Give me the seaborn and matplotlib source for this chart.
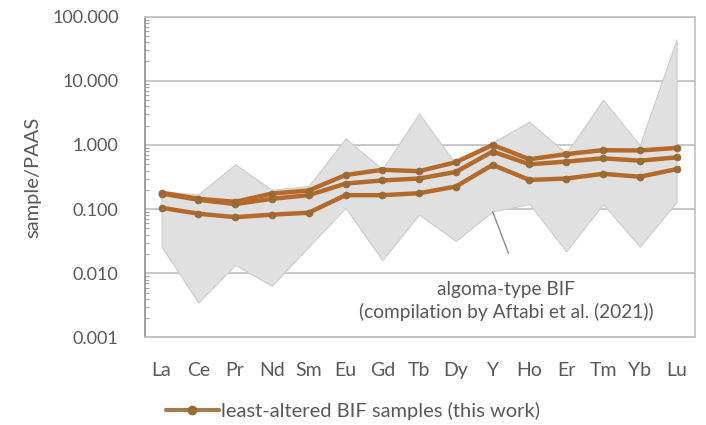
import pandas as pd
import numpy as np
import matplotlib
matplotlib.use("Agg")
import matplotlib.pyplot as plt
from matplotlib.lines import Line2D
from matplotlib.ticker import LogLocator, FixedLocator, NullFormatter
import seaborn as sns

elements = ["La", "Ce", "Pr", "Nd", "Sm", "Eu", "Gd", "Tb", "Dy", "Y",
            "Ho", "Er", "Tm", "Yb", "Lu"]

# least-altered BIF samples (this work), normalised to PAAS
sample_a = [0.18, 0.145, 0.13, 0.175, 0.195, 0.34, 0.41, 0.39, 0.54, 1.0,
            0.60, 0.72, 0.83, 0.82, 0.90]
sample_b = [0.175, 0.14, 0.12, 0.145, 0.165, 0.25, 0.28, 0.30, 0.38, 0.79,
            0.50, 0.55, 0.62, 0.57, 0.64]
sample_c = [0.105, 0.085, 0.075, 0.082, 0.088, 0.165, 0.165, 0.177, 0.225, 0.49,
            0.285, 0.30, 0.355, 0.32, 0.42]

# algoma-type BIF envelope (Aftabi et al. 2021)
env_max = [0.19, 0.17, 0.50, 0.20, 0.23, 1.27, 0.42, 3.1, 0.50, 1.1,
           2.3, 0.74, 5.1, 1.0, 44.0]
env_min = [0.026, 0.0035, 0.0135, 0.0064, 0.026, 0.105, 0.016, 0.082, 0.032, 0.092,
           0.12, 0.022, 0.12, 0.026, 0.13]

df = pd.DataFrame({
    "element": elements * 3,
    "value": sample_a + sample_b + sample_c,
    "sample": ["A"] * 15 + ["B"] * 15 + ["C"] * 15,
})

sns.set_style("white")
plt.rcParams["font.family"] = ["Lato", "DejaVu Sans"]
txt = "#595959"

fig = plt.figure(figsize=(7.06, 4.25), dpi=100)
ax = fig.add_axes([0.2054, 0.2059, 0.779, 0.755])

xs = np.arange(len(elements))
ax.fill_between(xs, env_min, env_max, facecolor="#E0E0E0", edgecolor="#CDCDCD",
                linewidth=0.8, zorder=1)

line_col = "#B5692A"
mk_col = "#9A6A35"
sns.lineplot(data=df, x="element", y="value", units="sample", estimator=None,
             color=line_col, linewidth=3.2, marker="o", markersize=5,
             markerfacecolor=mk_col, markeredgecolor=mk_col, markeredgewidth=0.5,
             ax=ax, zorder=3)

ax.set_yscale("log")
ax.set_ylim(0.001, 100)
ax.set_xlim(-0.45, 14.5)

ax.yaxis.set_major_locator(FixedLocator([0.001, 0.01, 0.1, 1, 10, 100]))
ax.set_yticklabels(["0.001", "0.010", "0.100", "1.000", "10.000", "100.000"])
ax.yaxis.set_minor_locator(LogLocator(base=10, subs=np.arange(2, 10)))
ax.yaxis.set_minor_formatter(NullFormatter())
ax.tick_params(axis="y", which="major", direction="out", length=8, width=1,
               color="#A6A6A6", labelsize=13, labelcolor=txt, pad=11)
ax.tick_params(axis="y", which="minor", direction="in", length=3, width=0.8,
               color="#A6A6A6", left=True)
ax.tick_params(axis="x", length=0, labelsize=14, labelcolor=txt, pad=18)

ax.grid(True, which="major", axis="y", color="#BFBFBF", linewidth=1.2, zorder=0)
ax.set_axisbelow(True)
for s in ["top", "right", "bottom"]:
    ax.spines[s].set_color("#BFBFBF")
    ax.spines[s].set_linewidth(1.2)
ax.spines["left"].set_color("#8C8C8C")
ax.spines["left"].set_linewidth(1.2)

ax.set_xlabel("")
ax.set_ylabel("sample/PAAS", fontsize=14.5, color=txt, labelpad=8)

ax.plot([9.0, 9.43], [0.091, 0.0206], color="#8C8C8C", linewidth=1, zorder=4)
ax.text(9.37, 0.0037, "algoma-type BIF\n(compilation by Aftabi et al. (2021))",
        ha="center", va="center", fontsize=13.8, color=txt, linespacing=1.35, zorder=4)

handle = Line2D([], [], color="#A07C4A", linewidth=3, marker="o", markersize=6,
                markerfacecolor=mk_col, markeredgecolor=mk_col)
fig.legend([handle], ["least-altered BIF samples (this work)"], loc="center",
           bbox_to_anchor=(0.50, 0.032), frameon=False, fontsize=14.5,
           handlelength=2.6, handletextpad=0.1, labelcolor=txt)

fig.savefig("out.png", dpi=100)
